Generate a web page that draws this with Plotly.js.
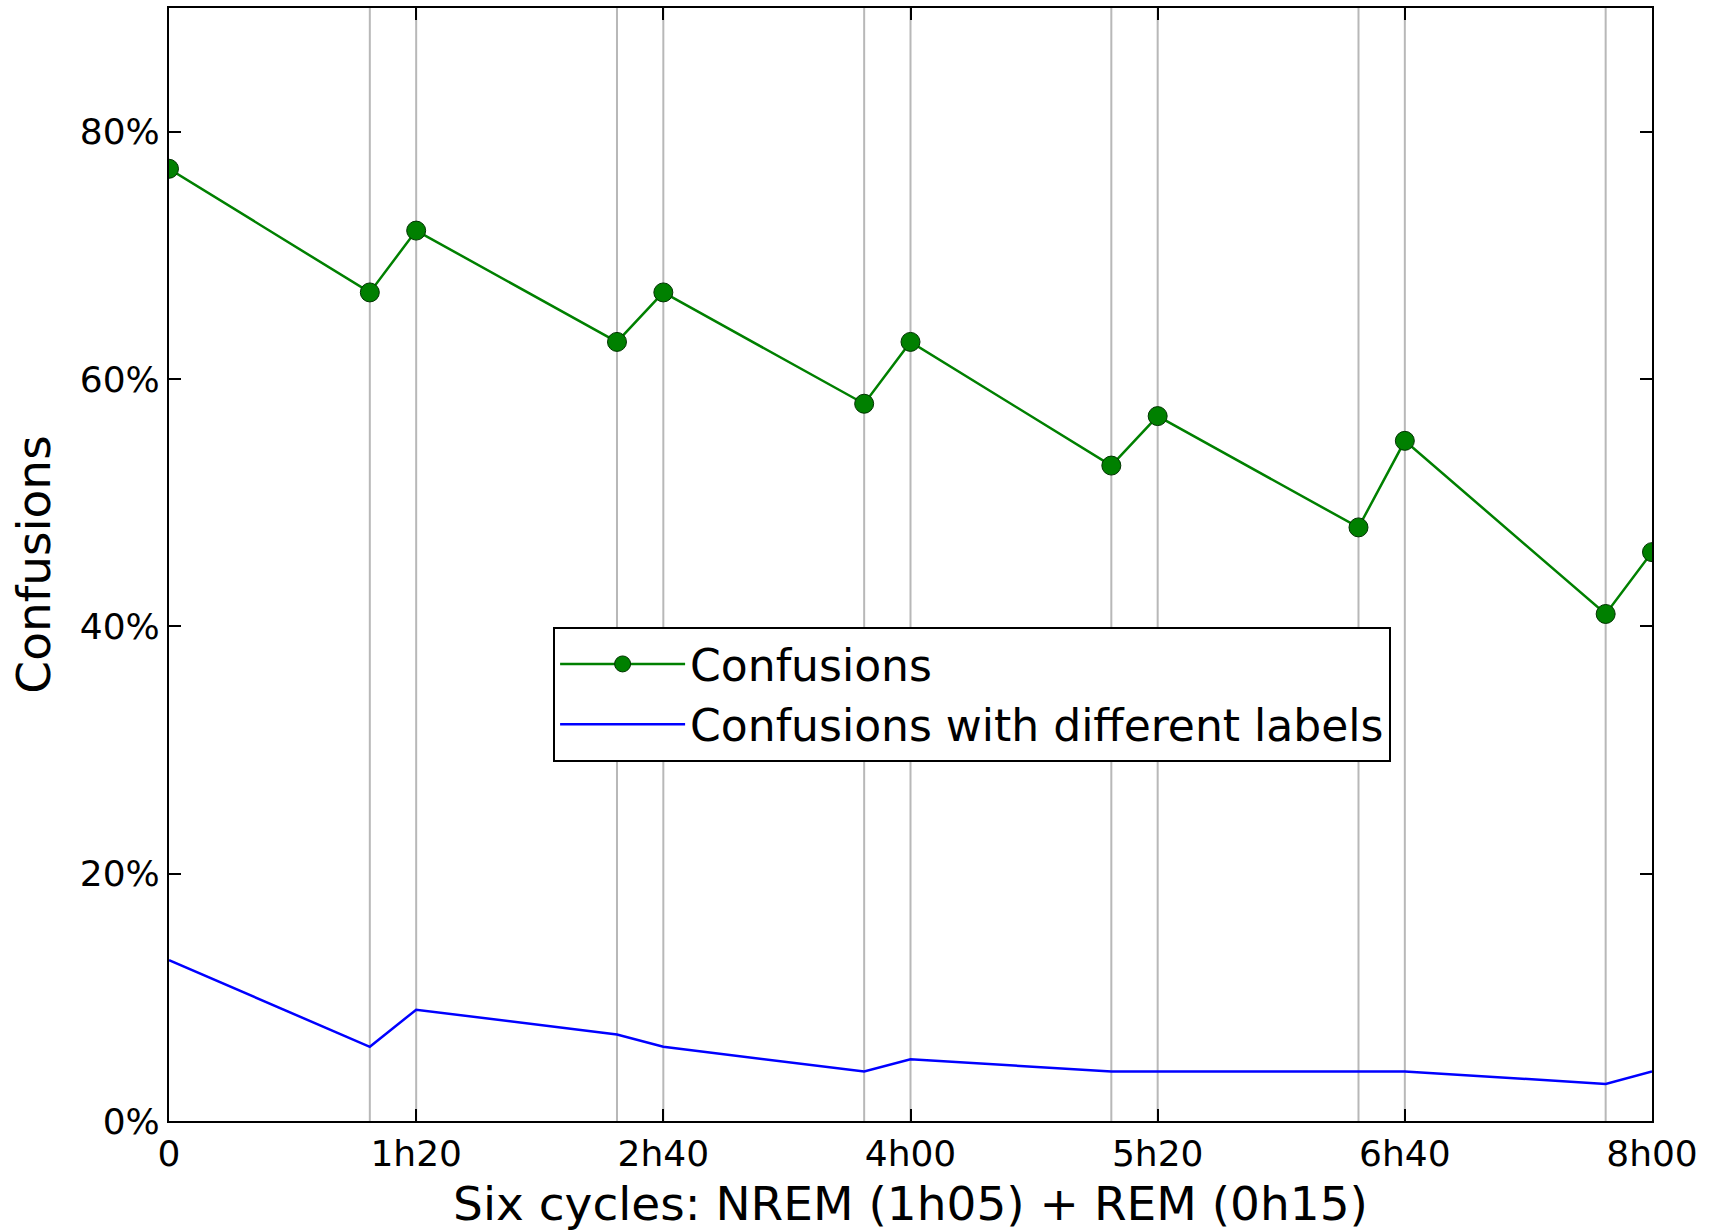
<!DOCTYPE html>
<html>
<head>
<meta charset="utf-8">
<script src="https://cdn.plot.ly/plotly-3.0.1.min.js"></script>
<style>
  html, body { margin: 0; padding: 0; background: #ffffff; }
  #chart { width: 1711px; height: 1231px; }
</style>
</head>
<body>
<div id="chart"></div>
<script>
// Minutes since sleep onset
const times = [0, 65, 80, 145, 160, 225, 240, 305, 320, 385, 400, 465, 480];
// Confusions (%)
const confusions = [77, 67, 72, 63, 67, 58, 63, 53, 57, 48, 55, 41, 46];
// Confusions with different labels (%)
const diffLabels = [13, 6, 9, 7, 6, 4, 5, 4, 4, 4, 4, 3, 4];
// NREM/REM boundaries (minutes)
const cycleBoundaries = [65, 80, 145, 160, 225, 240, 305, 320, 385, 400, 465];
// Tick labels
const xTickVals = [0, 80, 160, 240, 320, 400, 480];
const xTickText = ['0', '1h20', '2h40', '4h00', '5h20', '6h40', '8h00'];
const yTickVals = [0, 20, 40, 60, 80];
const yTickText = ['0%', '20%', '40%', '60%', '80%'];

const FONT = 'DejaVu Sans, Verdana, sans-serif';

const traces = [
  {
    x: times, y: confusions, name: 'Confusions',
    type: 'scatter', mode: 'lines+markers',
    line: { color: '#008000', width: 2.5 },
    marker: { color: '#008000', size: 19, line: { color: '#003300', width: 1 } },
    cliponaxis: true
  },
  {
    x: times, y: diffLabels, name: 'Confusions with different labels',
    type: 'scatter', mode: 'lines',
    line: { color: '#0000ff', width: 2.5 },
    cliponaxis: true
  }
];

const shapes = cycleBoundaries.map(b => ({
  type: 'line', xref: 'x', yref: 'paper', x0: b, x1: b, y0: 0, y1: 1,
  line: { color: '#b8b8b8', width: 2 }, layer: 'below'
}));

const layout = {
  width: 1711, height: 1231,
  paper_bgcolor: '#ffffff', plot_bgcolor: '#ffffff',
  margin: { l: 169, r: 59, t: 8, b: 110 },
  font: { family: FONT, color: '#000000', size: 36 },
  showlegend: true,
  legend: {
    x: 0.259, y: 0.444, xanchor: 'left', yanchor: 'top',
    bgcolor: '#ffffff', bordercolor: '#000000', borderwidth: 2,
    font: { family: FONT, size: 44, color: '#000000' },
    itemwidth: 125, tracegroupgap: 0
  },
  xaxis: {
    range: [0, 480], tickvals: xTickVals, ticktext: xTickText,
    ticks: 'inside', ticklen: 12, tickwidth: 1.5, tickcolor: '#000000',
    showline: true, linecolor: '#000000', linewidth: 2, mirror: 'ticks',
    showgrid: false, zeroline: false,
    tickfont: { family: FONT, size: 36, color: '#000000' },
    title: { text: 'Six cycles: NREM (1h05) + REM (0h15)', font: { family: FONT, size: 47, color: '#000000' }, standoff: 14 },
    automargin: false
  },
  yaxis: {
    range: [0, 90], tickvals: yTickVals, ticktext: yTickText,
    ticks: 'inside', ticklen: 12, tickwidth: 1.5, tickcolor: '#000000',
    showline: true, linecolor: '#000000', linewidth: 2, mirror: 'ticks',
    showgrid: false, zeroline: false,
    tickfont: { family: FONT, size: 36, color: '#000000' },
    title: { text: 'Confusions', font: { family: FONT, size: 47, color: '#000000' }, standoff: 14 },
    automargin: false
  },
  shapes: shapes
};

Plotly.newPlot('chart', traces, layout, { displayModeBar: false, responsive: false });
</script>
</body>
</html>
